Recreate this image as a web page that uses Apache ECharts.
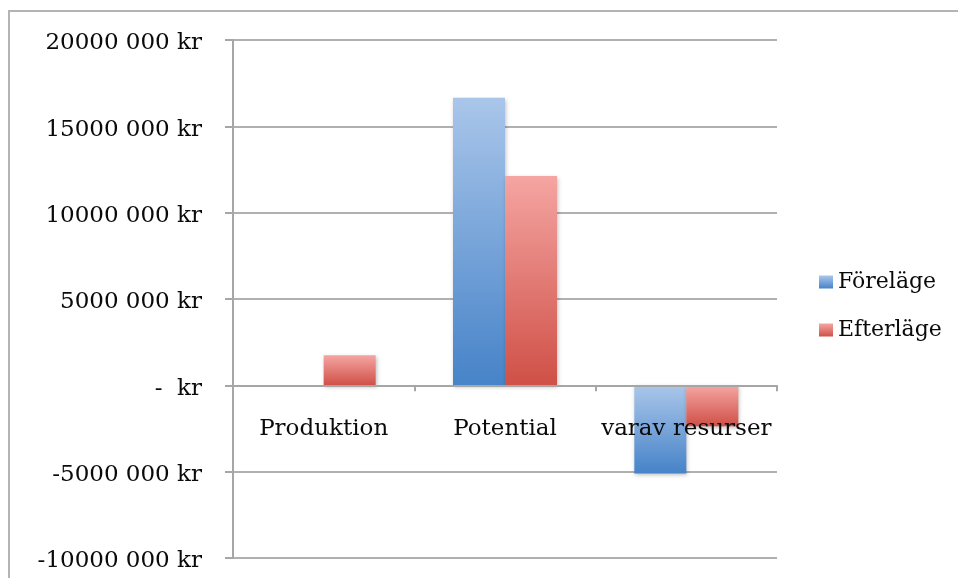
<!DOCTYPE html>
<html>
<head>
<meta charset="utf-8">
<script src="https://cdn.jsdelivr.net/npm/echarts@6/dist/echarts.min.js"></script>
<style>
html,body{margin:0;padding:0;background:#fff;overflow:hidden;}
#wrap{position:relative;width:958px;height:578px;overflow:hidden;}
#chart{position:absolute;left:0;top:0;width:958px;height:578px;}
#frame{position:absolute;left:8px;top:10px;width:2000px;height:2000px;border-top:2px solid #b4b4b4;border-left:2px solid #b4b4b4;pointer-events:none;}
</style>
</head>
<body>
<div id="wrap"><div id="chart"></div><div id="frame"></div></div>
<script>
var categories = ['Produktion', 'Potential', 'varav resurser'];
var seriesNames = ['Föreläge', 'Efterläge'];
var foreLage = [0, 16660000, -5100000];
var efterLage = [1740000, 12120000, -2370000];
var tickValues = [-10000000, -5000000, 0, 5000000, 10000000, 15000000, 20000000];
var tickLabels = ['-10000 000 kr', '-5000 000 kr', '-  kr', '5000 000 kr', '10000 000 kr', '15000 000 kr', '20000 000 kr'];
var yMin = -10000000, yMax = 20000000, yStep = 5000000;

var FONT = 'DejaVu Serif';
var GRID = {left: 233, right: 181, top: 40, bottom: 20};
var plotH = 578 - GRID.top - GRID.bottom;
// distance from the bottom edge of the plot up to the zero line
var zeroUp = plotH * (0 - yMin) / (yMax - yMin);

function grad(top, bottom) {
  return new echarts.graphic.LinearGradient(0, 0, 0, 1, [
    {offset: 0, color: top}, {offset: 1, color: bottom}
  ]);
}
var chart = echarts.init(document.getElementById('chart'));
chart.setOption({
  animation: false,
  backgroundColor: '#fff',
  grid: {left: GRID.left, right: GRID.right, top: GRID.top, bottom: GRID.bottom, containLabel: false, outerBoundsMode: 'none'},
  legend: {
    orient: 'vertical', left: 819, top: 271, itemGap: 26, padding: 0,
    itemWidth: 14, itemHeight: 13, icon: 'rect',
    textStyle: {fontFamily: FONT, fontSize: 22, color: '#0a0a0a'},
    data: seriesNames
  },
  xAxis: [{
    type: 'category', data: categories, z: 5,
    axisLine: {onZero: true, lineStyle: {color: '#a6a6a6', width: 2}},
    axisTick: {show: true, length: 6, lineStyle: {color: '#a6a6a6', width: 2}},
    axisLabel: {show: false}
  }, {
    type: 'category', data: categories, position: 'bottom', offset: -zeroUp, z: 6,
    axisLine: {show: false, onZero: false},
    axisTick: {show: false},
    axisLabel: {fontFamily: FONT, fontSize: 23, color: '#0a0a0a', margin: 32, interval: 0}
  }],
  yAxis: {
    type: 'value', min: yMin, max: yMax, interval: yStep,
    axisLine: {show: true, lineStyle: {color: '#a6a6a6', width: 2}},
    axisTick: {show: true, length: 8, lineStyle: {color: '#a6a6a6', width: 2}},
    splitLine: {lineStyle: {color: '#b0b0b0', width: 2}},
    axisLabel: {
      fontFamily: FONT, fontSize: 23, color: '#0a0a0a', margin: 31,
      formatter: function (v) {
        var i = tickValues.indexOf(v);
        return i >= 0 ? '{t|' + tickLabels[i] + '}' : '';
      },
      rich: {
        t: {fontFamily: FONT, fontSize: 23, color: '#0a0a0a', padding: [7, 0, 0, 0]}
      }
    }
  },
  series: [{
    name: seriesNames[0], type: 'bar', data: foreLage, xAxisIndex: 0,
    barWidth: 52, barGap: '0%',
    itemStyle: {
      color: grad('#aac6ea', '#4683c8'),
      shadowColor: 'rgba(0,0,0,0.25)', shadowBlur: 4, shadowOffsetX: 1, shadowOffsetY: 2
    }
  }, {
    name: seriesNames[1], type: 'bar', data: efterLage, xAxisIndex: 0,
    barWidth: 52, barGap: '0%',
    itemStyle: {
      color: grad('#f5a5a2', '#cf5047'),
      shadowColor: 'rgba(0,0,0,0.25)', shadowBlur: 4, shadowOffsetX: 1, shadowOffsetY: 2
    }
  }]
});
</script>
</body>
</html>
